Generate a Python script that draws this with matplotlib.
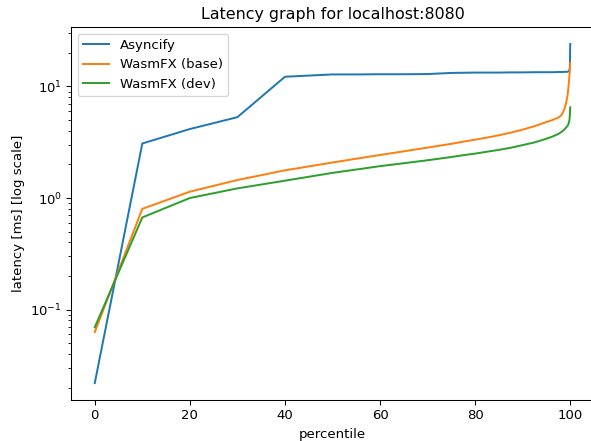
import matplotlib
matplotlib.use("Agg")
import matplotlib.pyplot as plt

percentiles = [0, 10, 20, 30, 40, 50, 55, 60, 65, 70, 75, 77.5, 80, 82.5, 85, 87.5,
               90, 92.5, 95, 96.25, 97.5, 98.125, 98.75, 99.0625, 99.375, 99.53,
               99.69, 99.84, 99.92, 100]

asyncify = [0.022, 3.08, 4.15, 5.3, 12.2, 12.8, 12.8, 12.85, 12.85, 12.9, 13.2, 13.25,
            13.3, 13.3, 13.3, 13.35, 13.35, 13.4, 13.4, 13.4, 13.45, 13.45, 13.5, 13.5,
            13.5, 13.6, 13.7, 14.0, 15.0, 24.0]

wasmfx_base = [0.063, 0.80, 1.14, 1.45, 1.77, 2.08, 2.25, 2.43, 2.62, 2.83, 3.06, 3.2,
               3.33, 3.48, 3.65, 3.85, 4.1, 4.4, 4.8, 5.0, 5.25, 5.5, 6.2, 6.9, 8.0,
               9.0, 10.5, 12.5, 14.0, 16.2]

wasmfx_dev = [0.0695, 0.67, 1.0, 1.22, 1.43, 1.68, 1.8, 1.93, 2.05, 2.18, 2.33, 2.42,
              2.5, 2.6, 2.7, 2.82, 2.98, 3.15, 3.4, 3.55, 3.75, 3.9, 4.1, 4.25, 4.4,
              4.5, 4.7, 5.0, 5.5, 6.5]

DPI = 95
fig = plt.figure(figsize=(591 / DPI, 441 / DPI), dpi=DPI)
ax = fig.add_axes([71.0 / 591, 41 / 441, 523.0 / 591, 373 / 441])

ax.plot(percentiles, asyncify, label="Asyncify")
ax.plot(percentiles, wasmfx_base, label="WasmFX (base)")
ax.plot(percentiles, wasmfx_dev, label="WasmFX (dev)")
ax.set_yscale("log")
ax.set_title("Latency graph for localhost:8080")
ax.set_xlabel("percentile")
ax.set_ylabel("latency [ms] [log scale]")
ax.legend(loc="upper left")

fig.savefig("out.png", dpi=DPI)
